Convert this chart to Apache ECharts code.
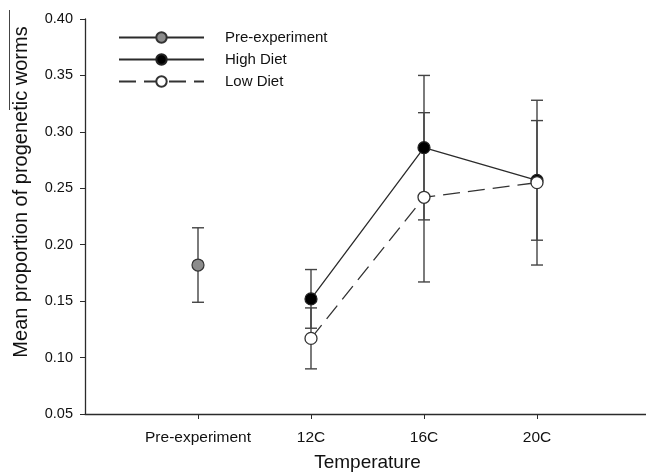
<!DOCTYPE html>
<html>
<head>
<meta charset="utf-8">
<script src="https://cdn.jsdelivr.net/npm/echarts@6/dist/echarts.min.js"></script>
<style>
  html, body { margin: 0; padding: 0; background: #fff; }
  #chart { width: 646px; height: 473px; }
</style>
</head>
<body>
<div id="chart"></div>
<script>
// x positions: blank slots at both ends keep the axis padding of the original
const categories = ['', 'Pre-experiment', '12C', '16C', '20C', '']

const preX = [1]
const preMean = [0.182]
const preErr = [0.033]

const dietX = [2, 3, 4]
const highMean = [0.152, 0.286, 0.257]
const highErr = [0.026, 0.064, 0.053]
const lowMean = [0.117, 0.242, 0.255]
const lowErr = [0.027, 0.075, 0.073]

const yTicks = [0.05, 0.10, 0.15, 0.20, 0.25, 0.30, 0.35, 0.40]

const pts = (xs, ys) => xs.map((x, i) => [x, ys[i]])
const bars = (xs, ys, es) => xs.map((x, i) => [x, ys[i] - es[i], ys[i] + es[i]])

const errorBars = bars(preX, preMean, preErr)
  .concat(bars(dietX, highMean, highErr))
  .concat(bars(dietX, lowMean, lowErr))

const font = 'Liberation Sans, Arial, sans-serif'
const ink = '#2b2b2b'

const chart = echarts.init(document.getElementById('chart'))

chart.setOption({
  animation: false,
  backgroundColor: '#fff',
  textStyle: { fontFamily: font },
  grid: { left: 85, top: 19, width: 565, height: 395, outerBoundsMode: 'none' },
  legend: {
    orient: 'vertical',
    left: 118,
    top: 30,
    padding: 0,
    itemWidth: 85,
    itemHeight: 13,
    itemGap: 7,
    textStyle: { fontFamily: font, fontSize: 15, color: '#111', padding: [0, 0, 0, 16] },
    data: ['Pre-experiment', 'High Diet', 'Low Diet']
  },
  xAxis: {
    type: 'category',
    data: categories,
    boundaryGap: false,
    name: 'Temperature',
    nameLocation: 'middle',
    nameGap: 39,
    nameTextStyle: { fontFamily: font, fontSize: 19, color: '#111' },
    axisLine: { lineStyle: { color: ink, width: 1.3 } },
    axisTick: {
      length: 5,
      interval: (i, v) => v !== '',
      lineStyle: { color: ink }
    },
    axisLabel: {
      interval: 0,
      margin: 16,
      fontFamily: font,
      fontSize: 15.5,
      color: '#111'
    },
    splitLine: { show: false }
  },
  yAxis: {
    type: 'value',
    min: yTicks[0],
    max: yTicks[yTicks.length - 1],
    interval: 0.05,
    axisLine: { show: true, lineStyle: { color: ink, width: 1.3 } },
    axisTick: { show: true, length: 5, lineStyle: { color: ink } },
    axisLabel: {
      margin: 12,
      fontFamily: font,
      fontSize: 14.5,
      color: '#111',
      formatter: v => v.toFixed(2)
    },
    splitLine: { show: false }
  },
  graphic: [
    {
      type: 'text',
      x: 21,
      y: 192,
      rotation: Math.PI / 2,
      style: {
        text: 'Mean proportion of progenetic worms',
        font: '20px ' + font,
        fill: '#111',
        align: 'center',
        verticalAlign: 'middle'
      }
    },
    {
      type: 'line',
      shape: { x1: 9.5, y1: 10, x2: 9.5, y2: 110 },
      style: { stroke: '#444', lineWidth: 1 }
    }
  ],
  series: [
    {
      type: 'custom',
      name: 'errors',
      z: 1,
      data: errorBars,
      encode: { x: 0, y: [1, 2] },
      renderItem: (params, api) => {
        const x = api.value(0)
        const lo = api.coord([x, api.value(1)])
        const hi = api.coord([x, api.value(2)])
        const w = 6
        const st = { stroke: '#444', lineWidth: 1.4 }
        return {
          type: 'group',
          children: [
            { type: 'line', shape: { x1: lo[0], y1: lo[1], x2: hi[0], y2: hi[1] }, style: st },
            { type: 'line', shape: { x1: lo[0] - w, y1: lo[1], x2: lo[0] + w, y2: lo[1] }, style: st },
            { type: 'line', shape: { x1: hi[0] - w, y1: hi[1], x2: hi[0] + w, y2: hi[1] }, style: st }
          ]
        }
      }
    },
    {
      type: 'line',
      name: 'Pre-experiment',
      z: 3,
      data: pts(preX, preMean),
      symbol: 'circle',
      symbolSize: 12,
      lineStyle: { color: ink, width: 1.3 },
      itemStyle: { color: '#8c8c8c', borderColor: '#333', borderWidth: 1.2 }
    },
    {
      type: 'line',
      name: 'High Diet',
      z: 4,
      data: pts(dietX, highMean),
      symbol: 'circle',
      symbolSize: 12,
      lineStyle: { color: ink, width: 1.3 },
      itemStyle: { color: '#000', borderColor: '#222', borderWidth: 1.2 }
    },
    {
      type: 'line',
      name: 'Low Diet',
      z: 5,
      data: pts(dietX, lowMean),
      symbol: 'circle',
      symbolSize: 12,
      lineStyle: { color: '#333', width: 1.3, type: [17, 8] },
      itemStyle: { color: '#fff', borderColor: '#333', borderWidth: 1.3 }
    }
  ]
})
</script>
</body>
</html>
